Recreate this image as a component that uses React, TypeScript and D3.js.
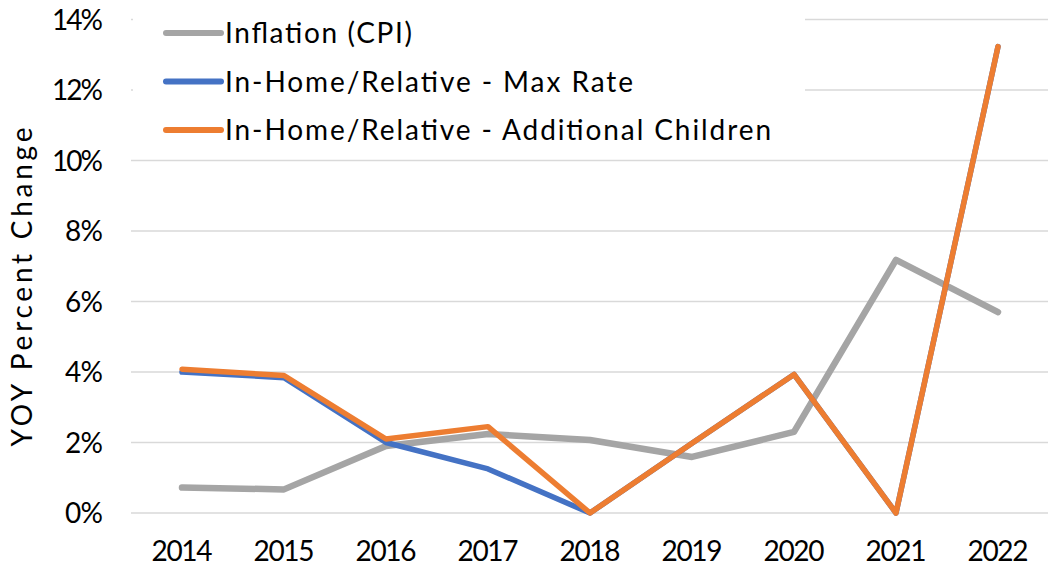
import * as d3 from "d3";

const years = ["2014", "2015", "2016", "2017", "2018", "2019", "2020", "2021", "2022"];
const inflation = [0.72, 0.67, 1.9, 2.24, 2.07, 1.59, 2.3, 7.18, 5.7];
const maxRate = [4.0, 3.84, 2.0, 1.25, 0, 1.98, 3.93, 0, 13.23];
const additional = [4.08, 3.9, 2.1, 2.45, 0, 1.98, 3.93, 0, 13.23];
const yTicks = [0, 2, 4, 6, 8, 10, 12, 14];

const series = [
  { name: "Inflation (CPI)", values: inflation, color: "#a5a5a5", len: 187 },
  { name: "In-Home/Relative - Max Rate", values: maxRate, color: "#4472c4", len: 408 },
  { name: "In-Home/Relative - Additional Children", values: additional, color: "#ed7d31", len: 546 },
];

const W = 1048;
const H = 567;
const font = "Lato, 'Open Sans', sans-serif";
const fs = 28;

export default function App() {
  const x = d3.scaleBand<string>().domain(years).range([131, 1049]);
  const y = d3.scaleLinear().domain([0, 14]).range([513, 19.5]);
  const cx = (yr: string) => (x(yr) as number) + x.bandwidth() / 2;

  const line = d3
    .line<number>()
    .x((_, i) => cx(years[i]))
    .y((d) => y(d));

  return (
    <svg
      width={W}
      height={H}
      style={{ position: "absolute", left: 0, top: 0, background: "#fff" }}
      fontFamily={font}
    >
      {/* gridlines */}
      {yTicks.map((t) => (
        <line key={t} x1={131} x2={W} y1={y(t)} y2={y(t)} stroke="#d9d9d9" strokeWidth={1.5} />
      ))}
      {/* y tick labels */}
      {yTicks.map((t) => (
        <text
          key={"l" + t}
          x={103}
          y={y(t)}
          dy="0.36em"
          textAnchor="end"
          fontSize={fs}
          fill="#000"
          textLength={t >= 10 ? 51 : 38}
        >
          {t}%
        </text>
      ))}
      {/* x tick labels */}
      {years.map((yr) => (
        <text key={yr} x={cx(yr)} y={561} textAnchor="middle" fontSize={fs} fill="#000" textLength={61}>
          {yr}
        </text>
      ))}
      <text
        transform="translate(22,287) rotate(-90)"
        textAnchor="middle"
        dy="0.36em"
        fontSize={fs}
        fill="#000"
        textLength={319}
      >
        YOY Percent Change
      </text>
      {/* legend background */}
      <rect x={133} y={0} width={672} height={150} fill="#fff" />
      {series.map((s, i) => (
        <path
          key={s.name}
          d={line(s.values) ?? ""}
          fill="none"
          stroke={s.color}
          strokeWidth={i === 0 ? 6.5 : 5.5}
          strokeLinejoin="round"
          strokeLinecap="round"
        />
      ))}
      {series.map((s, i) => {
        const ly = 33 + i * 48.5;
        return (
          <g key={"lg" + s.name}>
            <line x1={166} x2={221} y1={ly} y2={ly} stroke={s.color} strokeWidth={6} strokeLinecap="round" />
            <text x={225} y={ly} dy="0.36em" fontSize={fs} fill="#000" textLength={s.len}>
              {s.name}
            </text>
          </g>
        );
      })}
    </svg>
  );
}
